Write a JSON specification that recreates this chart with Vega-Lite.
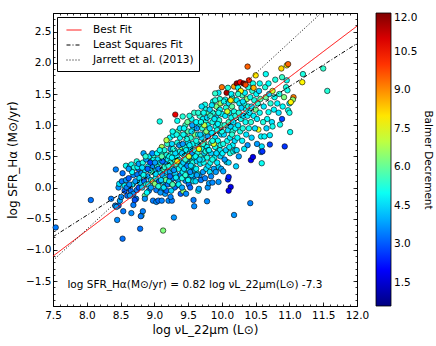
{
"$schema": "https://vega.github.io/schema/vega-lite/v6.json",
"width": 304, "height": 293,
"autosize": "none",
"padding": {"left": 53, "top": 13, "right": 79, "bottom": 40},
"config": {
  "font": "DejaVu Sans",
  "view": {"stroke": "black", "strokeWidth": 1},
  "axis": {"domain": false, "grid": false, "tickColor": "black", "labelColor": "black", "labelFontSize": 10.5, "titleFontSize": 12, "titleFontWeight": "normal", "titleColor": "black", "tickWidth": 0.8, "labelOverlap": false, "labelFlush": false},
  "legend": {"labelFontSize": 10.5, "labelColor": "black", "titleFontWeight": "normal", "titleFontSize": 10.5, "titleColor": "black"}
},
"datasets": {
  "lines": [
    {"model": "Best Fit", "x": 7.5, "y": -1.1}, {"model": "Best Fit", "x": 12, "y": 2.59},
    {"model": "Least Squares Fit", "x": 7.5, "y": -0.79}, {"model": "Least Squares Fit", "x": 12, "y": 2.31},
    {"model": "Jarrett et al. (2013)", "x": 7.5, "y": -1.17}, {"model": "Jarrett et al. (2013)", "x": 12, "y": 3.33}
  ],
  "eq": [{"x": 9.6, "y": -1.57, "t": "log SFR_Hα(M⊙/yr) = 0.82 log νL_22μm(L⊙) -7.3"}],
  "pts": [
{"x":7.54,"y":-0.64,"b":3.4},{"x":8.06,"y":-0.2,"b":3.3},{"x":8.36,"y":-0.18,"b":3.4},
{"x":8.42,"y":-0.29,"b":3.5},{"x":8.47,"y":-0.29,"b":3.2},{"x":8.49,"y":-0.21,"b":3.9},{"x":8.45,"y":-0.52,"b":3.6},{"x":8.53,"y":-0.82,"b":3.3},{"x":8.54,"y":-0.38,"b":3.4},{"x":8.47,"y":0.0,"b":3.7},{"x":8.48,"y":0.06,"b":4.6},{"x":8.52,"y":0.1,"b":3.4},{"x":8.56,"y":-0.05,"b":3.1},{"x":8.58,"y":0.12,"b":3.8},{"x":8.43,"y":0.29,"b":3.5},{"x":8.53,"y":0.23,"b":3.3},{"x":8.58,"y":0.35,"b":5.0},{"x":8.6,"y":-0.13,"b":3.2},{"x":8.51,"y":-0.15,"b":3.6},{"x":8.44,"y":-0.31,"b":3.8},{"x":8.56,"y":0.03,"b":4.8},{"x":8.59,"y":0.0,"b":3.5},
{"x":8.64,"y":0.34,"b":4.4},{"x":8.66,"y":0.37,"b":5.0},{"x":8.69,"y":0.2,"b":3.6},{"x":8.75,"y":0.21,"b":3.4},{"x":8.74,"y":0.42,"b":5.2},{"x":8.65,"y":-0.05,"b":3.3},{"x":8.69,"y":-0.1,"b":3.7},{"x":8.74,"y":-0.04,"b":3.5},{"x":8.64,"y":-0.13,"b":3.9},{"x":8.66,"y":-0.41,"b":3.6},{"x":8.69,"y":-0.28,"b":3.4},{"x":8.79,"y":-0.66,"b":3.3},{"x":8.62,"y":0.15,"b":3.1},{"x":8.68,"y":0.05,"b":4.7},{"x":8.72,"y":0.1,"b":3.8},{"x":8.78,"y":0.15,"b":4.5},{"x":8.76,"y":0.3,"b":3.2},{"x":8.7,"y":0.32,"b":5.2},{"x":8.77,"y":0.0,"b":3.0},{"x":8.73,"y":-0.18,"b":3.5},{"x":8.67,"y":0.25,"b":4.9},{"x":8.63,"y":0.05,"b":3.6},{"x":8.71,"y":-0.2,"b":2.9},{"x":8.79,"y":0.08,"b":4.4},{"x":8.75,"y":0.33,"b":4.8},{"x":8.62,"y":0.3,"b":3.8},{"x":8.77,"y":0.38,"b":3.9},
{"x":8.81,"y":0.23,"b":3.7},{"x":8.86,"y":0.28,"b":4.6},{"x":8.84,"y":0.55,"b":3.9},{"x":8.91,"y":0.34,"b":4.8},{"x":8.98,"y":0.34,"b":3.6},{"x":8.81,"y":-0.45,"b":6.2},{"x":8.83,"y":-0.38,"b":3.5},{"x":8.8,"y":-0.46,"b":3.4},{"x":8.86,"y":-0.13,"b":6.0},{"x":8.86,"y":-0.18,"b":3.7},{"x":8.98,"y":-0.21,"b":3.4},{"x":8.82,"y":0.0,"b":4.4},{"x":8.85,"y":0.1,"b":3.3},{"x":8.88,"y":0.05,"b":5.2},{"x":8.9,"y":0.18,"b":3.9},{"x":8.92,"y":-0.05,"b":3.5},{"x":8.95,"y":0.12,"b":4.5},{"x":8.97,"y":0.25,"b":5.5},{"x":8.83,"y":0.4,"b":5.1},{"x":8.88,"y":0.45,"b":3.8},{"x":8.93,"y":0.5,"b":4.7},{"x":8.96,"y":0.42,"b":5.0},{"x":8.99,"y":0.45,"b":5.0},{"x":8.87,"y":0.5,"b":5.3},{"x":8.99,"y":0.52,"b":5.3},{"x":8.93,"y":0.28,"b":4.6},{"x":8.98,"y":0.1,"b":6.5},{"x":8.91,"y":0.05,"b":4.8},{"x":8.9,"y":0.3,"b":3.1},{"x":8.95,"y":0.0,"b":3.8},{"x":8.89,"y":-0.08,"b":4.9},{"x":8.94,"y":0.4,"b":2.8},{"x":8.97,"y":0.55,"b":3.6},{"x":8.82,"y":0.32,"b":4.5},{"x":8.84,"y":0.2,"b":5.0},
{"x":9.03,"y":-0.23,"b":3.6},{"x":9.06,"y":-0.21,"b":3.3},{"x":9.11,"y":-0.21,"b":3.5},{"x":9.16,"y":-0.1,"b":3.8},{"x":9.03,"y":0.28,"b":4.4},{"x":9.01,"y":0.06,"b":6.4},{"x":9.03,"y":-0.04,"b":3.4},{"x":9.11,"y":-0.02,"b":3.9},{"x":9.13,"y":0.09,"b":4.5},{"x":9.18,"y":0.06,"b":3.7},{"x":9.13,"y":-0.69,"b":6.3},{"x":9.18,"y":-0.05,"b":3.2},{"x":9.08,"y":1.06,"b":5.1},{"x":9.11,"y":0.65,"b":6.8},{"x":9.02,"y":0.15,"b":4.9},{"x":9.04,"y":0.35,"b":5.2},{"x":9.05,"y":0.45,"b":4.6},{"x":9.07,"y":0.1,"b":3.1},{"x":9.08,"y":0.25,"b":5.0},{"x":9.09,"y":0.4,"b":4.8},{"x":9.1,"y":0.55,"b":5.0},{"x":9.12,"y":0.2,"b":3.9},{"x":9.13,"y":0.3,"b":5.6},{"x":9.14,"y":0.48,"b":4.5},{"x":9.15,"y":0.6,"b":5.2},{"x":9.16,"y":0.15,"b":4.7},{"x":9.17,"y":0.38,"b":3.6},{"x":9.18,"y":0.52,"b":5.1},{"x":9.19,"y":0.25,"b":4.4},{"x":9.19,"y":0.7,"b":5.4},{"x":9.06,"y":0.02,"b":5.3},{"x":9.09,"y":-0.08,"b":3.7},{"x":9.14,"y":0.0,"b":4.6},{"x":9.12,"y":0.42,"b":3.3},{"x":9.17,"y":0.12,"b":6.1},{"x":9.04,"y":0.55,"b":4.9},{"x":9.01,"y":0.4,"b":3.8},{"x":9.15,"y":0.33,"b":5.3},{"x":9.1,"y":0.12,"b":4.4},{"x":9.06,"y":0.3,"b":3.5},{"x":9.2,"y":0.45,"b":4.7},{"x":9.2,"y":0.05,"b":3.4},{"x":9.11,"y":0.5,"b":5.8},{"x":9.02,"y":0.22,"b":4.5},{"x":9.08,"y":0.6,"b":5.0},
{"x":9.21,"y":-0.21,"b":3.6},{"x":9.26,"y":-0.21,"b":3.4},{"x":9.26,"y":0.06,"b":3.8},{"x":9.33,"y":0.03,"b":3.5},{"x":9.29,"y":-0.48,"b":3.7},{"x":9.23,"y":0.8,"b":5.0},{"x":9.28,"y":0.84,"b":4.8},{"x":9.18,"y":0.76,"b":6.9},{"x":9.31,"y":1.17,"b":10.8},{"x":9.34,"y":1.07,"b":5.0},{"x":9.42,"y":1.14,"b":5.3},{"x":9.22,"y":0.1,"b":4.6},{"x":9.23,"y":0.25,"b":3.9},{"x":9.24,"y":0.4,"b":5.1},{"x":9.25,"y":0.55,"b":5.3},{"x":9.26,"y":0.7,"b":4.5},{"x":9.27,"y":0.3,"b":4.9},{"x":9.28,"y":0.15,"b":3.6},{"x":9.29,"y":0.45,"b":5.3},{"x":9.3,"y":0.6,"b":4.7},{"x":9.3,"y":0.0,"b":3.3},{"x":9.31,"y":0.22,"b":4.4},{"x":9.32,"y":0.38,"b":5.5},{"x":9.33,"y":0.5,"b":4.8},{"x":9.34,"y":0.72,"b":5.2},{"x":9.35,"y":0.9,"b":5.9},{"x":9.35,"y":0.12,"b":3.8},{"x":9.36,"y":0.3,"b":5.0},{"x":9.37,"y":0.44,"b":4.6},{"x":9.38,"y":0.58,"b":5.1},{"x":9.38,"y":0.8,"b":4.9},{"x":9.39,"y":0.2,"b":3.5},{"x":9.39,"y":-0.1,"b":3.1},{"x":9.4,"y":0.35,"b":4.7},{"x":9.4,"y":0.65,"b":6.2},{"x":9.22,"y":0.5,"b":5.0},{"x":9.24,"y":0.62,"b":3.9},{"x":9.25,"y":-0.05,"b":4.4},{"x":9.27,"y":0.05,"b":5.7},{"x":9.29,"y":0.28,"b":3.7},{"x":9.31,"y":0.55,"b":4.5},{"x":9.33,"y":0.85,"b":5.1},{"x":9.36,"y":0.05,"b":4.8},{"x":9.37,"y":0.68,"b":3.9},{"x":9.21,"y":0.35,"b":5.2},{"x":9.28,"y":0.62,"b":5.2},{"x":9.32,"y":0.16,"b":4.7},{"x":9.34,"y":0.42,"b":7.4},{"x":9.26,"y":0.48,"b":4.8},{"x":9.23,"y":0.18,"b":3.2},{"x":9.38,"y":0.95,"b":4.6},{"x":9.27,"y":0.9,"b":5.0},{"x":9.24,"y":-0.15,"b":3.5},
{"x":9.43,"y":-0.06,"b":6.5},{"x":9.48,"y":0.19,"b":3.8},{"x":9.46,"y":0.11,"b":3.5},{"x":9.57,"y":0.17,"b":3.6},{"x":9.58,"y":-0.2,"b":3.4},{"x":9.59,"y":-0.3,"b":3.6},{"x":9.41,"y":0.0,"b":3.9},{"x":9.42,"y":0.25,"b":4.8},{"x":9.43,"y":0.4,"b":4.4},{"x":9.44,"y":0.52,"b":5.1},{"x":9.45,"y":0.65,"b":5.2},{"x":9.45,"y":0.85,"b":4.7},{"x":9.46,"y":1.0,"b":5.5},{"x":9.47,"y":0.32,"b":4.9},{"x":9.48,"y":0.45,"b":3.9},{"x":9.49,"y":0.58,"b":5.2},{"x":9.5,"y":0.72,"b":4.6},{"x":9.5,"y":0.9,"b":5.8},{"x":9.51,"y":0.05,"b":3.3},{"x":9.51,"y":0.28,"b":5.0},{"x":9.52,"y":0.38,"b":5.0},{"x":9.53,"y":0.5,"b":4.8},{"x":9.54,"y":0.62,"b":4.5},{"x":9.54,"y":0.8,"b":5.3},{"x":9.55,"y":1.1,"b":5.0},{"x":9.55,"y":0.2,"b":4.4},{"x":9.56,"y":0.42,"b":4.7},{"x":9.56,"y":0.55,"b":3.7},{"x":9.57,"y":0.7,"b":4.9},{"x":9.58,"y":0.95,"b":5.1},{"x":9.58,"y":0.32,"b":5.2},{"x":9.59,"y":0.48,"b":4.6},{"x":9.59,"y":1.2,"b":5.4},{"x":9.6,"y":0.6,"b":5.0},{"x":9.6,"y":0.85,"b":6.3},{"x":9.41,"y":0.15,"b":5.2},{"x":9.42,"y":0.7,"b":3.8},{"x":9.44,"y":0.3,"b":4.5},{"x":9.46,"y":0.45,"b":5.4},{"x":9.47,"y":0.6,"b":4.8},{"x":9.48,"y":0.78,"b":5.1},{"x":9.49,"y":0.35,"b":3.5},{"x":9.5,"y":0.12,"b":4.9},{"x":9.52,"y":0.68,"b":4.7},{"x":9.53,"y":0.25,"b":3.7},{"x":9.55,"y":0.9,"b":4.6},{"x":9.57,"y":0.4,"b":5.2},{"x":9.44,"y":0.95,"b":4.9},{"x":9.49,"y":1.05,"b":6.0},{"x":9.52,"y":1.15,"b":5.2},{"x":9.41,"y":0.55,"b":4.4},{"x":9.56,"y":1.0,"b":3.9},{"x":9.53,"y":0.0,"b":3.2},{"x":9.47,"y":-0.1,"b":3.6},{"x":9.58,"y":0.1,"b":4.8},{"x":9.43,"y":0.85,"b":5.0},{"x":9.51,"y":0.5,"b":7.2},{"x":9.46,"y":0.2,"b":5.3},{"x":9.54,"y":0.35,"b":4.5},{"x":9.6,"y":0.28,"b":3.9},
{"x":9.65,"y":-0.05,"b":4.9},{"x":9.66,"y":-0.02,"b":3.9},{"x":9.78,"y":-0.22,"b":3.6},{"x":9.75,"y":1.33,"b":5.1},{"x":9.61,"y":0.1,"b":4.5},{"x":9.62,"y":0.3,"b":4.8},{"x":9.63,"y":0.42,"b":4.4},{"x":9.64,"y":0.55,"b":5.2},{"x":9.64,"y":0.7,"b":4.7},{"x":9.65,"y":0.85,"b":5.0},{"x":9.66,"y":1.0,"b":5.0},{"x":9.67,"y":1.15,"b":5.3},{"x":9.67,"y":0.2,"b":3.7},{"x":9.68,"y":0.38,"b":4.6},{"x":9.69,"y":0.5,"b":5.5},{"x":9.7,"y":0.62,"b":4.9},{"x":9.7,"y":0.8,"b":4.5},{"x":9.71,"y":0.95,"b":5.3},{"x":9.72,"y":1.1,"b":4.8},{"x":9.72,"y":0.25,"b":3.8},{"x":9.73,"y":0.4,"b":5.0},{"x":9.74,"y":0.55,"b":4.4},{"x":9.74,"y":0.72,"b":5.7},{"x":9.75,"y":0.88,"b":4.7},{"x":9.76,"y":1.05,"b":5.2},{"x":9.76,"y":1.25,"b":5.1},{"x":9.77,"y":0.3,"b":4.6},{"x":9.78,"y":0.48,"b":5.1},{"x":9.78,"y":0.65,"b":4.8},{"x":9.79,"y":0.82,"b":3.9},{"x":9.79,"y":1.0,"b":4.9},{"x":9.8,"y":1.2,"b":5.9},{"x":9.8,"y":0.35,"b":4.5},{"x":9.62,"y":0.75,"b":5.1},{"x":9.63,"y":0.95,"b":3.8},{"x":9.65,"y":1.2,"b":5.3},{"x":9.66,"y":0.62,"b":7.6},{"x":9.68,"y":0.85,"b":4.4},{"x":9.69,"y":0.12,"b":3.4},{"x":9.71,"y":0.45,"b":4.7},{"x":9.73,"y":1.2,"b":5.0},{"x":9.75,"y":0.15,"b":3.5},{"x":9.77,"y":0.9,"b":6.4},{"x":9.61,"y":0.5,"b":4.9},{"x":9.64,"y":0.22,"b":5.2},{"x":9.7,"y":1.3,"b":4.6},{"x":9.72,"y":0.7,"b":5.3},{"x":9.76,"y":0.58,"b":5.2},{"x":9.78,"y":1.12,"b":4.5},{"x":9.67,"y":0.45,"b":4.4},{"x":9.74,"y":1.0,"b":7.0},{"x":9.62,"y":1.05,"b":4.8},{"x":9.69,"y":1.05,"b":5.0},{"x":9.8,"y":0.6,"b":5.0},{"x":9.63,"y":0.2,"b":3.9},{"x":9.79,"y":0.0,"b":3.7},
{"x":9.81,"y":0.07,"b":3.8},{"x":9.86,"y":0.08,"b":3.6},{"x":9.95,"y":0.09,"b":3.7},{"x":9.95,"y":0.33,"b":4.5},{"x":9.95,"y":1.52,"b":4.7},{"x":9.9,"y":1.51,"b":5.4},{"x":9.82,"y":0.25,"b":4.6},{"x":9.83,"y":0.4,"b":5.0},{"x":9.84,"y":0.55,"b":4.4},{"x":9.84,"y":0.72,"b":5.2},{"x":9.85,"y":0.88,"b":4.7},{"x":9.86,"y":1.05,"b":5.1},{"x":9.87,"y":1.2,"b":5.2},{"x":9.87,"y":1.38,"b":4.9},{"x":9.88,"y":0.3,"b":3.9},{"x":9.89,"y":0.48,"b":4.8},{"x":9.9,"y":0.65,"b":5.0},{"x":9.9,"y":0.8,"b":4.6},{"x":9.91,"y":0.98,"b":5.0},{"x":9.92,"y":1.12,"b":4.4},{"x":9.92,"y":1.3,"b":6.2},{"x":9.93,"y":0.4,"b":4.7},{"x":9.94,"y":0.58,"b":5.3},{"x":9.94,"y":0.75,"b":4.9},{"x":9.96,"y":0.9,"b":4.5},{"x":9.96,"y":1.08,"b":5.2},{"x":9.97,"y":1.25,"b":4.8},{"x":9.97,"y":1.42,"b":5.3},{"x":9.98,"y":0.5,"b":4.4},{"x":9.98,"y":0.68,"b":5.1},{"x":9.99,"y":0.85,"b":4.6},{"x":9.99,"y":1.0,"b":5.6},{"x":10.0,"y":1.18,"b":4.9},{"x":10.0,"y":1.61,"b":9.3},{"x":9.81,"y":0.6,"b":4.8},{"x":9.82,"y":0.95,"b":4.5},{"x":9.83,"y":1.15,"b":5.3},{"x":9.85,"y":1.32,"b":4.6},{"x":9.86,"y":0.45,"b":5.1},{"x":9.88,"y":0.7,"b":7.3},{"x":9.89,"y":1.1,"b":4.7},{"x":9.91,"y":0.25,"b":3.8},{"x":9.93,"y":0.92,"b":5.0},{"x":9.95,"y":1.2,"b":5.0},{"x":9.97,"y":0.6,"b":4.7},{"x":9.84,"y":0.18,"b":3.6},{"x":9.9,"y":1.4,"b":5.2},{"x":9.94,"y":1.02,"b":4.8},{"x":9.98,"y":1.35,"b":6.6},{"x":9.92,"y":0.55,"b":4.5},{"x":9.86,"y":0.75,"b":5.1},{"x":9.82,"y":1.25,"b":4.4},{"x":9.99,"y":0.3,"b":3.9},
{"x":10.09,"y":0.13,"b":2.5},{"x":10.1,"y":0.17,"b":2.3},{"x":10.13,"y":0.01,"b":1.8},{"x":10.1,"y":-0.05,"b":1.9},{"x":10.02,"y":0.26,"b":3.9},{"x":10.07,"y":0.41,"b":4.6},{"x":10.1,"y":0.4,"b":4.4},{"x":10.18,"y":-0.44,"b":3.7},{"x":10.07,"y":1.52,"b":11.5},{"x":10.05,"y":1.41,"b":4.9},{"x":10.1,"y":1.35,"b":4.6},{"x":10.15,"y":1.45,"b":5.1},{"x":10.18,"y":1.62,"b":8.8},{"x":10.01,"y":0.55,"b":4.8},{"x":10.02,"y":0.7,"b":5.1},{"x":10.03,"y":0.85,"b":4.5},{"x":10.04,"y":1.0,"b":5.3},{"x":10.05,"y":1.15,"b":4.7},{"x":10.06,"y":1.28,"b":5.2},{"x":10.06,"y":0.6,"b":4.4},{"x":10.08,"y":0.75,"b":5.0},{"x":10.09,"y":0.92,"b":4.6},{"x":10.1,"y":1.05,"b":5.5},{"x":10.11,"y":1.2,"b":4.8},{"x":10.12,"y":0.55,"b":5.2},{"x":10.12,"y":0.8,"b":4.7},{"x":10.13,"y":0.98,"b":4.4},{"x":10.14,"y":1.12,"b":5.0},{"x":10.15,"y":1.3,"b":5.9},{"x":10.16,"y":0.68,"b":4.8},{"x":10.16,"y":0.9,"b":5.3},{"x":10.17,"y":1.05,"b":4.6},{"x":10.18,"y":1.22,"b":5.1},{"x":10.19,"y":0.75,"b":4.5},{"x":10.19,"y":1.4,"b":6.3},{"x":10.2,"y":0.95,"b":4.9},{"x":10.2,"y":1.15,"b":5.2},{"x":10.03,"y":1.38,"b":5.0},{"x":10.08,"y":1.22,"b":7.2},{"x":10.11,"y":0.65,"b":4.7},{"x":10.14,"y":1.5,"b":4.8},{"x":10.04,"y":0.45,"b":3.8},{"x":10.17,"y":0.58,"b":5.0},{"x":10.13,"y":1.4,"b":8.0},{"x":10.0,"y":0.9,"b":5.1},{"x":10.09,"y":1.6,"b":5.3},{"x":10.15,"y":0.85,"b":5.3},{"x":10.2,"y":0.6,"b":4.6},
{"x":10.21,"y":0.34,"b":4.4},{"x":10.22,"y":1.67,"b":11.7},{"x":10.27,"y":1.69,"b":10.5},{"x":10.24,"y":1.6,"b":5.0},{"x":10.32,"y":1.67,"b":12.0},{"x":10.38,"y":1.94,"b":9.5},{"x":10.39,"y":1.61,"b":5.2},{"x":10.4,"y":1.72,"b":10.2},{"x":10.38,"y":0.68,"b":3.7},{"x":10.22,"y":1.4,"b":4.8},{"x":10.23,"y":0.8,"b":4.9},{"x":10.24,"y":1.0,"b":4.6},{"x":10.25,"y":1.2,"b":5.3},{"x":10.26,"y":1.35,"b":4.7},{"x":10.27,"y":0.9,"b":5.1},{"x":10.28,"y":1.1,"b":5.0},{"x":10.29,"y":1.28,"b":4.4},{"x":10.3,"y":1.48,"b":5.6},{"x":10.3,"y":0.75,"b":4.8},{"x":10.31,"y":0.95,"b":5.2},{"x":10.32,"y":1.15,"b":4.5},{"x":10.33,"y":1.35,"b":5.1},{"x":10.34,"y":1.52,"b":4.7},{"x":10.35,"y":1.05,"b":5.0},{"x":10.36,"y":1.25,"b":4.9},{"x":10.36,"y":0.85,"b":4.6},{"x":10.37,"y":1.42,"b":6.5},{"x":10.38,"y":1.15,"b":4.8},{"x":10.39,"y":1.3,"b":5.2},{"x":10.4,"y":0.95,"b":5.0},{"x":10.22,"y":0.6,"b":4.5},{"x":10.25,"y":0.5,"b":3.8},{"x":10.28,"y":1.55,"b":7.8},{"x":10.33,"y":0.62,"b":4.7},{"x":10.35,"y":1.65,"b":9.8},{"x":10.24,"y":1.5,"b":5.3},{"x":10.31,"y":1.38,"b":4.6},
{"x":10.43,"y":0.44,"b":2.0},{"x":10.46,"y":0.49,"b":1.8},{"x":10.42,"y":-0.25,"b":3.5},{"x":10.46,"y":1.67,"b":5.1},{"x":10.5,"y":1.8,"b":8.0},{"x":10.54,"y":0.93,"b":7.6},{"x":10.56,"y":1.67,"b":5.0},{"x":10.58,"y":0.57,"b":3.9},{"x":10.59,"y":0.39,"b":5.0},{"x":10.59,"y":0.66,"b":4.6},{"x":10.6,"y":0.58,"b":2.6},{"x":10.41,"y":1.2,"b":4.7},{"x":10.42,"y":1.45,"b":5.0},{"x":10.43,"y":1.05,"b":5.3},{"x":10.44,"y":1.3,"b":4.6},{"x":10.45,"y":1.55,"b":5.3},{"x":10.47,"y":1.15,"b":4.8},{"x":10.48,"y":1.4,"b":5.2},{"x":10.49,"y":0.95,"b":4.5},{"x":10.5,"y":1.25,"b":6.1},{"x":10.51,"y":1.5,"b":4.9},{"x":10.52,"y":1.1,"b":4.7},{"x":10.53,"y":1.35,"b":5.3},{"x":10.55,"y":1.55,"b":4.4},{"x":10.56,"y":1.2,"b":5.0},{"x":10.57,"y":1.42,"b":5.8},{"x":10.58,"y":0.82,"b":4.8},{"x":10.44,"y":0.8,"b":4.4},{"x":10.52,"y":0.7,"b":3.8},{"x":10.47,"y":1.6,"b":8.6},
{"x":10.63,"y":0.82,"b":4.8},{"x":10.64,"y":1.61,"b":5.2},{"x":10.65,"y":1.82,"b":5.0},{"x":10.69,"y":1.67,"b":4.9},{"x":10.69,"y":1.21,"b":5.0},{"x":10.74,"y":1.05,"b":4.6},{"x":10.71,"y":0.69,"b":2.8},{"x":10.71,"y":0.84,"b":4.7},{"x":10.75,"y":0.98,"b":5.1},{"x":10.79,"y":1.73,"b":5.2},{"x":10.62,"y":1.3,"b":4.7},{"x":10.65,"y":1.45,"b":6.0},{"x":10.67,"y":1.1,"b":4.9},{"x":10.7,"y":1.5,"b":4.5},{"x":10.72,"y":1.35,"b":5.3},{"x":10.75,"y":1.55,"b":7.2},{"x":10.77,"y":1.25,"b":4.8},{"x":10.61,"y":1.05,"b":5.2},{"x":10.66,"y":0.95,"b":4.4},{"x":10.78,"y":1.45,"b":5.0},
{"x":10.88,"y":1.91,"b":8.2},{"x":10.96,"y":1.96,"b":7.8},{"x":10.98,"y":1.98,"b":9.5},{"x":10.89,"y":1.77,"b":5.5},{"x":10.86,"y":1.01,"b":5.0},{"x":10.89,"y":1.1,"b":2.8},{"x":10.93,"y":0.66,"b":2.6},{"x":10.96,"y":1.72,"b":5.0},{"x":10.95,"y":1.61,"b":5.2},{"x":10.97,"y":1.56,"b":5.1},{"x":10.82,"y":1.35,"b":4.8},{"x":10.85,"y":1.5,"b":5.2},{"x":10.9,"y":1.3,"b":4.9},{"x":10.84,"y":1.2,"b":4.6},{"x":10.92,"y":1.45,"b":6.3},
{"x":11.0,"y":1.35,"b":4.7},{"x":10.98,"y":1.24,"b":5.0},{"x":11.06,"y":1.45,"b":9.2},{"x":11.05,"y":1.41,"b":6.5},{"x":11.02,"y":1.37,"b":7.8},{"x":11.0,"y":1.2,"b":5.1},{"x":11.01,"y":0.89,"b":5.0},{"x":11.2,"y":1.82,"b":5.2},{"x":11.19,"y":1.69,"b":7.8},{"x":11.5,"y":1.91,"b":5.4},{"x":11.56,"y":1.55,"b":5.3}
  ]
},
"resolve": {"axis": {"x": "independent", "y": "independent"}},
"layer": [
  {
    "data": {"name": "pts"},
    "mark": {"type": "circle", "size": 30, "stroke": "black", "strokeWidth": 0.6, "opacity": 1},
    "encoding": {
      "x": {"field": "x", "type": "quantitative", "scale": {"domain": [7.5, 12], "nice": false, "zero": false},
            "axis": {"orient": "bottom", "values": [7.5, 8, 8.5, 9, 9.5, 10, 10.5, 11, 11.5, 12], "format": ".1f", "tickSize": -4, "labelPadding": 8, "title": "log νL_22μm (L⊙)", "titlePadding": 4}},
      "y": {"field": "y", "type": "quantitative", "scale": {"domain": [-1.9, 2.8], "nice": false, "zero": false},
            "axis": {"orient": "left", "values": [-1.5, -1, -0.5, 0, 0.5, 1, 1.5, 2, 2.5], "format": ".1f", "tickSize": -4, "labelPadding": 6, "title": "log SFR_Hα (M⊙/yr)", "titlePadding": 6}},
      "fill": {"field": "b", "type": "quantitative",
               "scale": {"domain": [0.6, 2.025, 3.45, 4.875, 6.3, 7.725, 9.15, 10.575, 12], "range": ["#00007f", "#0000ff", "#007fff", "#00ffff", "#7fff7f", "#ffff00", "#ff7f00", "#ff0000", "#7f0000"], "interpolate": "rgb"},
               "legend": {"orient": "none", "legendX": 323, "legendY": 0, "direction": "vertical", "gradientLength": 293, "gradientThickness": 15, "gradientStrokeColor": "black", "gradientStrokeWidth": 0.8, "values": [1.5, 3, 4.5, 6, 7.5, 9, 10.5, 12], "format": ".1f", "labelOffset": 3, "title": "Balmer Decrement", "titleOrient": "right", "titleAnchor": "middle", "titlePadding": 6,
                          "encode": {"title": {"angle": {"value": 270}}}}}
    }
  },
  {
    "data": {"name": "lines"},
    "transform": [{"filter": "datum.model === 'Best Fit'"}],
    "mark": {"type": "line", "clip": true, "strokeWidth": 1},
    "encoding": {
      "x": {"field": "x", "type": "quantitative", "axis": {"orient": "top", "values": [7.5, 8, 8.5, 9, 9.5, 10, 10.5, 11, 11.5, 12], "labels": false, "tickSize": -4, "title": null}},
      "y": {"field": "y", "type": "quantitative", "axis": {"orient": "right", "values": [-1.5, -1, -0.5, 0, 0.5, 1, 1.5, 2, 2.5], "labels": false, "tickSize": -4, "title": null}},
      "stroke": {"field": "model", "type": "nominal", "scale": {"domain": ["Best Fit", "Least Squares Fit", "Jarrett et al. (2013)"], "range": ["#ff0000", "#000000", "#000000"]},
                 "legend": {"orient": "none", "legendX": 4, "legendY": 4, "title": null, "symbolType": "stroke", "symbolSize": 225, "symbolStrokeWidth": 1, "labelOffset": 11, "fillColor": "white", "strokeColor": "black", "padding": 5, "rowPadding": 1, "symbolOffset": 4}},
      "strokeDash": {"field": "model", "type": "nominal", "scale": {"domain": ["Best Fit", "Least Squares Fit", "Jarrett et al. (2013)"], "range": [[1, 0], [4, 2, 1, 2], [1, 2]]},
                 "legend": {"orient": "none", "legendX": 4, "legendY": 4, "title": null, "symbolType": "stroke", "symbolSize": 225, "symbolStrokeWidth": 1, "labelOffset": 11, "fillColor": "white", "strokeColor": "black", "padding": 5, "rowPadding": 1, "symbolOffset": 4}}
    }
  },
  {
    "data": {"name": "eq"},
    "mark": {"type": "text", "fontSize": 10.5, "align": "center", "baseline": "middle", "color": "black"},
    "encoding": {
      "x": {"field": "x", "type": "quantitative", "axis": {"orient": "bottom", "values": [7.5,7.6,7.7,7.8,7.9,8,8.1,8.2,8.3,8.4,8.5,8.6,8.7,8.8,8.9,9,9.1,9.2,9.3,9.4,9.5,9.6,9.7,9.8,9.9,10,10.1,10.2,10.3,10.4,10.5,10.6,10.7,10.8,10.9,11,11.1,11.2,11.3,11.4,11.5,11.6,11.7,11.8,11.9,12], "labels": false, "tickSize": -2, "title": null}},
      "y": {"field": "y", "type": "quantitative", "axis": {"orient": "left", "values": [-1.9,-1.8,-1.7,-1.6,-1.5,-1.4,-1.3,-1.2,-1.1,-1,-0.9,-0.8,-0.7,-0.6,-0.5,-0.4,-0.3,-0.2,-0.1,0,0.1,0.2,0.3,0.4,0.5,0.6,0.7,0.8,0.9,1,1.1,1.2,1.3,1.4,1.5,1.6,1.7,1.8,1.9,2,2.1,2.2,2.3,2.4,2.5,2.6,2.7,2.8], "labels": false, "tickSize": -2, "title": null}},
      "text": {"field": "t"}
    }
  },
  {
    "data": {"name": "lines"},
    "transform": [{"filter": "datum.model !== 'Best Fit'"}],
    "mark": {"type": "line", "clip": true, "strokeWidth": 1},
    "encoding": {
      "x": {"field": "x", "type": "quantitative", "axis": {"orient": "top", "values": [7.5,7.6,7.7,7.8,7.9,8,8.1,8.2,8.3,8.4,8.5,8.6,8.7,8.8,8.9,9,9.1,9.2,9.3,9.4,9.5,9.6,9.7,9.8,9.9,10,10.1,10.2,10.3,10.4,10.5,10.6,10.7,10.8,10.9,11,11.1,11.2,11.3,11.4,11.5,11.6,11.7,11.8,11.9,12], "labels": false, "tickSize": -2, "title": null}},
      "y": {"field": "y", "type": "quantitative", "axis": {"orient": "right", "values": [-1.9,-1.8,-1.7,-1.6,-1.5,-1.4,-1.3,-1.2,-1.1,-1,-0.9,-0.8,-0.7,-0.6,-0.5,-0.4,-0.3,-0.2,-0.1,0,0.1,0.2,0.3,0.4,0.5,0.6,0.7,0.8,0.9,1,1.1,1.2,1.3,1.4,1.5,1.6,1.7,1.8,1.9,2,2.1,2.2,2.3,2.4,2.5,2.6,2.7,2.8], "labels": false, "tickSize": -2, "title": null}},
      "stroke": {"field": "model", "type": "nominal", "scale": {"domain": ["Best Fit", "Least Squares Fit", "Jarrett et al. (2013)"], "range": ["#ff0000", "#000000", "#000000"]},
                 "legend": {"orient": "none", "legendX": 4, "legendY": 4, "title": null, "symbolType": "stroke", "symbolSize": 225, "symbolStrokeWidth": 1, "labelOffset": 11, "fillColor": "white", "strokeColor": "black", "padding": 5, "rowPadding": 1, "symbolOffset": 4}},
      "strokeDash": {"field": "model", "type": "nominal", "scale": {"domain": ["Best Fit", "Least Squares Fit", "Jarrett et al. (2013)"], "range": [[1, 0], [4, 2, 1, 2], [1, 2]]},
                 "legend": {"orient": "none", "legendX": 4, "legendY": 4, "title": null, "symbolType": "stroke", "symbolSize": 225, "symbolStrokeWidth": 1, "labelOffset": 11, "fillColor": "white", "strokeColor": "black", "padding": 5, "rowPadding": 1, "symbolOffset": 4}}
    }
  }
]
}
